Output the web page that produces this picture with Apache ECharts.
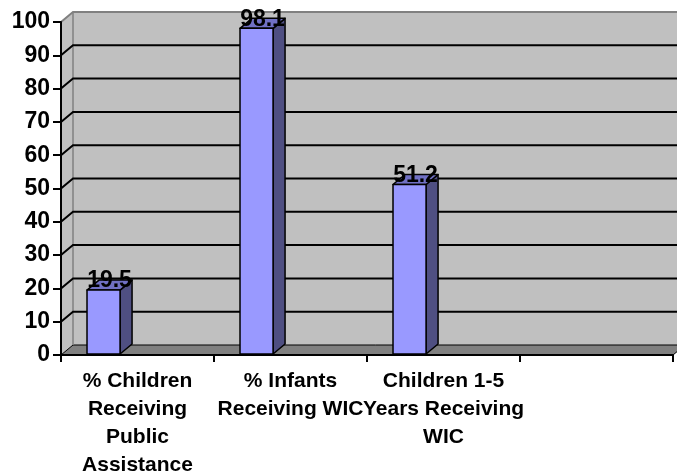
<!DOCTYPE html>
<html><head><meta charset="utf-8">
<script src="https://cdn.jsdelivr.net/npm/echarts@6/dist/echarts.min.js"></script>
<style>html,body{margin:0;padding:0;background:#fff}#c{width:677px;height:474px}</style>
</head><body><div id="c"></div>
<script>
const categories = ['% Children\nReceiving\nPublic\nAssistance', '% Infants\nReceiving WIC', 'Children 1-5\nYears Receiving\nWIC', ''];
const values = [19.5, 98.1, 51.2];
const yTicks = [0, 10, 20, 30, 40, 50, 60, 70, 80, 90, 100];

const DX = 12, DY = -10;
const FAMILY = '"Liberation Sans", Arial, sans-serif';
const FONT = 'bold 23px ' + FAMILY;

function renderWall(params, api) {
  const cs = params.coordSys;
  const x0 = cs.x, x1 = cs.x + cs.width, yT = cs.y, yB = cs.y + cs.height;
  const kids = [];
  kids.push({type: 'polygon', shape: {points: [[x0, yB], [x0 + DX, yB + DY], [x0 + DX, yT + DY], [x0, yT]]}, style: {fill: '#C0C0C0'}});
  kids.push({type: 'rect', shape: {x: x0 + DX, y: yT + DY, width: x1 - x0 + 10, height: yB - yT}, style: {fill: '#C0C0C0'}});
  kids.push({type: 'polygon', shape: {points: [[x0, yB], [x0 + DX, yB + DY], [x1 + DX, yB + DY], [x1, yB]]}, style: {fill: '#808080', stroke: '#000', lineWidth: 1}});
  kids.push({type: 'polyline', shape: {points: [[x0, yT], [x0 + DX, yT + DY], [x1 + DX + 10, yT + DY]]}, style: {stroke: '#808080', lineWidth: 2, fill: null}});
  kids.push({type: 'line', shape: {x1: x0 + DX, y1: yT + DY, x2: x0 + DX, y2: yB + DY}, style: {stroke: '#808080', lineWidth: 1.5}});
  yTicks.forEach(function (t) {
    if (t === yTicks[0] || t === yTicks[yTicks.length - 1]) return;
    const y = api.coord([0, t])[1];
    kids.push({type: 'polyline', shape: {points: [[x0, y], [x0 + DX, y + DY], [x1 + DX + 10, y + DY]]}, style: {stroke: '#000', lineWidth: 2, fill: null}});
  });
  return {type: 'group', children: kids};
}

function renderBar(params, api) {
  const i = api.value(0), v = api.value(1);
  const c = api.coord([i, v]);
  const base = api.coord([i, 0]);
  const band = api.size([1, 0])[0];
  const w = band * 0.216;
  const left = c[0] - band * 0.33;
  const right = left + w;
  const top = c[1], bot = base[1] - 1;
  const st = {stroke: '#000', lineWidth: 1.5, lineJoin: 'round'};
  return {type: 'group', children: [
    {type: 'polygon', shape: {points: [[right, bot], [right + DX, bot + DY], [right + DX, top + DY], [right, top]]}, style: Object.assign({fill: '#4F4F82'}, st)},
    {type: 'polygon', shape: {points: [[left, top], [left + DX, top + DY], [right + DX, top + DY], [right, top]]}, style: Object.assign({fill: '#7070C4'}, st)},
    {type: 'rect', shape: {x: left, y: top, width: w, height: bot - top}, style: Object.assign({fill: '#9999FF'}, st)},
    {type: 'text', style: {text: String(v), x: left + w / 2 + DX / 2, y: top - 9, font: FONT, fill: '#000', align: 'center', verticalAlign: 'middle'}}
  ]};
}

const chart = echarts.init(document.getElementById('c'), null, {renderer: 'canvas'});
chart.setOption({
  animation: false,
  grid: {left: 61, right: 4, top: 22, bottom: 119, containLabel: false, outerBoundsMode: 'none'},
  xAxis: {
    type: 'category', data: categories, boundaryGap: true, z: 10,
    axisLine: {lineStyle: {color: '#000', width: 2}},
    axisTick: {show: true, length: 7, interval: 0, lineStyle: {color: '#000', width: 2}},
    axisLabel: {interval: 0, color: '#000', fontSize: 21, fontWeight: 'bold', fontFamily: FAMILY, lineHeight: 28, margin: 12}
  },
  yAxis: {
    type: 'value', min: 0, max: 100, interval: 10, z: 10,
    splitLine: {show: false},
    axisLine: {show: true, lineStyle: {color: '#000', width: 2}},
    axisTick: {show: true, length: 8, lineStyle: {color: '#000', width: 2}},
    axisLabel: {color: '#000', fontSize: 23, fontWeight: 'bold', fontFamily: FAMILY, margin: 11}
  },
  series: [
    {type: 'custom', data: [[0, 0]], renderItem: renderWall, z: 1, silent: true, clip: false},
    {type: 'custom', data: values.map(function (v, i) { return [i, v]; }), renderItem: renderBar, z: 3, clip: false}
  ]
});
</script></body></html>
